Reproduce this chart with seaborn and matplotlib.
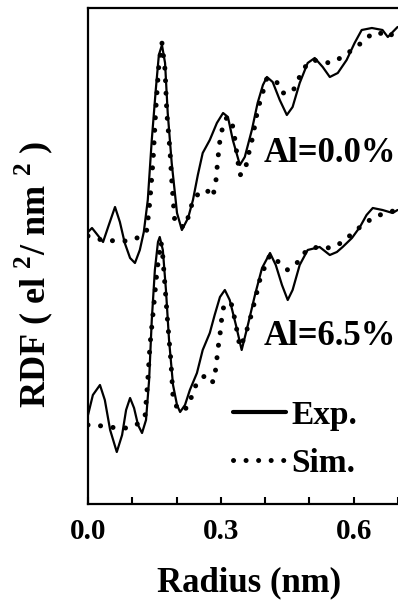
import pandas as pd
import matplotlib.pyplot as plt
import seaborn as sns
from matplotlib.lines import Line2D
from matplotlib.ticker import MultipleLocator

# Al = 0.0 %  (upper pair of curves)
r_exp_0 = [0.000, 0.009, 0.018, 0.034, 0.047, 0.061, 0.072, 0.083, 0.095, 0.106,
           0.117, 0.126, 0.135, 0.144, 0.153, 0.160, 0.167, 0.174, 0.180, 0.189,
           0.201, 0.212, 0.226, 0.237, 0.248, 0.259, 0.275, 0.291, 0.305, 0.316,
           0.327, 0.343, 0.354, 0.370, 0.383, 0.395, 0.404, 0.417, 0.433, 0.449,
           0.462, 0.478, 0.496, 0.512, 0.530, 0.546, 0.564, 0.584, 0.602, 0.618,
           0.641, 0.665, 0.677, 0.688, 0.699]
rdf_exp_0 = [272, 276, 271, 262, 279, 297, 282, 261, 246, 241,
             254, 272, 304, 364, 414, 449, 459, 441, 391, 341,
             291, 274, 286, 304, 329, 351, 364, 381, 391, 387,
             364, 339, 347, 374, 401, 419, 427, 422, 404, 389,
             397, 421, 441, 446, 437, 427, 431, 444, 461, 474,
             476, 474, 467, 472, 477]

r_sim_0 = [0.000, 0.009, 0.034, 0.065, 0.090, 0.117, 0.133, 0.140, 0.147, 0.153,
           0.160, 0.167, 0.174, 0.178, 0.185, 0.189, 0.196, 0.208, 0.219, 0.230,
           0.237, 0.253, 0.268, 0.282, 0.289, 0.293, 0.298, 0.305, 0.314, 0.325,
           0.332, 0.338, 0.343, 0.354, 0.361, 0.372, 0.383, 0.393, 0.404, 0.426,
           0.440, 0.462, 0.474, 0.490, 0.508, 0.546, 0.575, 0.596, 0.620, 0.643,
           0.659, 0.681, 0.699]
rdf_sim_0 = [268, 266, 264, 263, 263, 267, 274, 304, 344, 394,
             439, 461, 434, 391, 354, 324, 282, 278, 277, 292,
             304, 312, 314, 307, 324, 344, 364, 379, 387, 382,
             364, 344, 329, 332, 347, 367, 394, 409, 426, 422,
             411, 412, 424, 437, 444, 441, 447, 454, 462, 471,
             471, 467, 477]

# Al = 6.5 %  (lower pair of curves)
r_exp_65 = [0.000, 0.011, 0.027, 0.038, 0.050, 0.065, 0.077, 0.086, 0.095, 0.104,
            0.113, 0.122, 0.131, 0.138, 0.144, 0.151, 0.158, 0.162, 0.169, 0.176,
            0.183, 0.192, 0.201, 0.208, 0.219, 0.230, 0.246, 0.259, 0.275, 0.286,
            0.298, 0.309, 0.320, 0.334, 0.347, 0.361, 0.377, 0.393, 0.411, 0.424,
            0.438, 0.451, 0.462, 0.478, 0.496, 0.523, 0.546, 0.562, 0.575, 0.596,
            0.614, 0.629, 0.643, 0.665, 0.688, 0.699]
rdf_exp_65 = [89, 109, 119, 104, 74, 52, 69, 94, 106, 96,
              79, 71, 84, 124, 184, 234, 262, 267, 254, 214,
              164, 119, 99, 92, 99, 114, 131, 154, 171, 189,
              207, 214, 204, 179, 154, 179, 209, 236, 251, 239,
              219, 204, 214, 239, 254, 257, 249, 252, 257, 266,
              277, 289, 296, 294, 291, 294]

r_sim_65 = [0.000, 0.034, 0.065, 0.090, 0.117, 0.129, 0.135, 0.140, 0.147, 0.156,
            0.165, 0.169, 0.174, 0.180, 0.187, 0.192, 0.203, 0.214, 0.226, 0.241,
            0.259, 0.271, 0.282, 0.289, 0.293, 0.298, 0.302, 0.307, 0.314, 0.325,
            0.334, 0.343, 0.354, 0.370, 0.381, 0.388, 0.399, 0.411, 0.433, 0.451,
            0.474, 0.494, 0.519, 0.550, 0.575, 0.598, 0.620, 0.643, 0.670, 0.699]
rdf_sim_65 = [79, 78, 76, 76, 81, 89, 124, 159, 191, 234,
              262, 247, 217, 181, 144, 107, 94, 94, 97, 117,
              127, 129, 122, 136, 154, 169, 186, 199, 202, 199,
              179, 157, 167, 191, 211, 224, 237, 249, 241, 234,
              242, 254, 257, 256, 262, 271, 279, 286, 291, 294]

curve_labels = ["Al=0.0%", "Al=6.5%"]
legend_labels = ["Exp.", "Sim."]
x_ticks = [0.0, 0.3, 0.6]
x_ticklabels = ["0.0", "0.3", "0.6"]

sns.set_style("ticks")
plt.rcParams["font.family"] = ["Liberation Serif", "DejaVu Serif"]
plt.rcParams["font.weight"] = "bold"
plt.rcParams["mathtext.fontset"] = "custom"
plt.rcParams["mathtext.rm"] = "Liberation Serif:bold"
plt.rcParams["mathtext.bf"] = "Liberation Serif:bold"
for key in ["text.color", "axes.labelcolor", "xtick.color", "ytick.color", "axes.edgecolor"]:
    plt.rcParams[key] = "black"

fig = plt.figure(figsize=(3.98, 6.0), dpi=100)
ax = fig.add_axes([88 / 398, 96 / 600, 310 / 398, 496 / 600])

exp_kw = dict(color="black", linewidth=1.6, legend=False, ax=ax)
sim_kw = dict(color="black", linewidth=3.6, legend=False, ax=ax)

sns.lineplot(x=r_exp_0, y=rdf_exp_0, **exp_kw)
sns.lineplot(x=r_exp_65, y=rdf_exp_65, **exp_kw)
l1 = sns.lineplot(x=r_sim_0, y=rdf_sim_0, **sim_kw).lines[-1]
l2 = sns.lineplot(x=r_sim_65, y=rdf_sim_65, **sim_kw).lines[-1]
for ln in (l1, l2):
    ln.set_linestyle((0, (0.01, 2.5)))
    ln.set_dash_capstyle("round")

ax.set_xlim(0, 0.7)
ax.set_ylim(0, 496)
ax.set_yticks([])
ax.set_xticks(x_ticks)
ax.set_xticklabels(x_ticklabels)
ax.xaxis.set_minor_locator(MultipleLocator(0.1))
ax.tick_params(axis="x", which="both", direction="in", length=5, width=1.5,
               labelsize=21, pad=10, colors="black")

for side in ["left", "top", "bottom"]:
    ax.spines[side].set_linewidth(1.6)
    ax.spines[side].set_color("black")
ax.spines["right"].set_visible(False)

ax.set_xlabel("Radius (nm)", fontsize=25, fontweight="bold")
ax.xaxis.set_label_coords(0.52, -0.125)
ax.set_ylabel("RDF ( el $^{2}$/ nm $^{2}$ )", fontsize=26, fontweight="bold")
ax.yaxis.set_label_coords(-0.105, 0.462)

ax.text(0.565, 0.706, curve_labels[0], transform=ax.transAxes, fontsize=25,
        fontweight="bold", ha="left", va="center")
ax.text(0.565, 0.338, curve_labels[1], transform=ax.transAxes, fontsize=25,
        fontweight="bold", ha="left", va="center")

handles = [Line2D([], [], color="black", linewidth=3),
           Line2D([], [], color="black", linewidth=3.6,
                  linestyle=(0, (0.01, 2.5)), dash_capstyle="round")]
ax.legend(handles, legend_labels, loc="upper left", bbox_to_anchor=(0.468, 0.21),
          frameon=False, fontsize=24, handlelength=1.6, handletextpad=0.15,
          labelspacing=0.5, borderpad=0, borderaxespad=0)

fig.savefig("out.png", dpi=100)
